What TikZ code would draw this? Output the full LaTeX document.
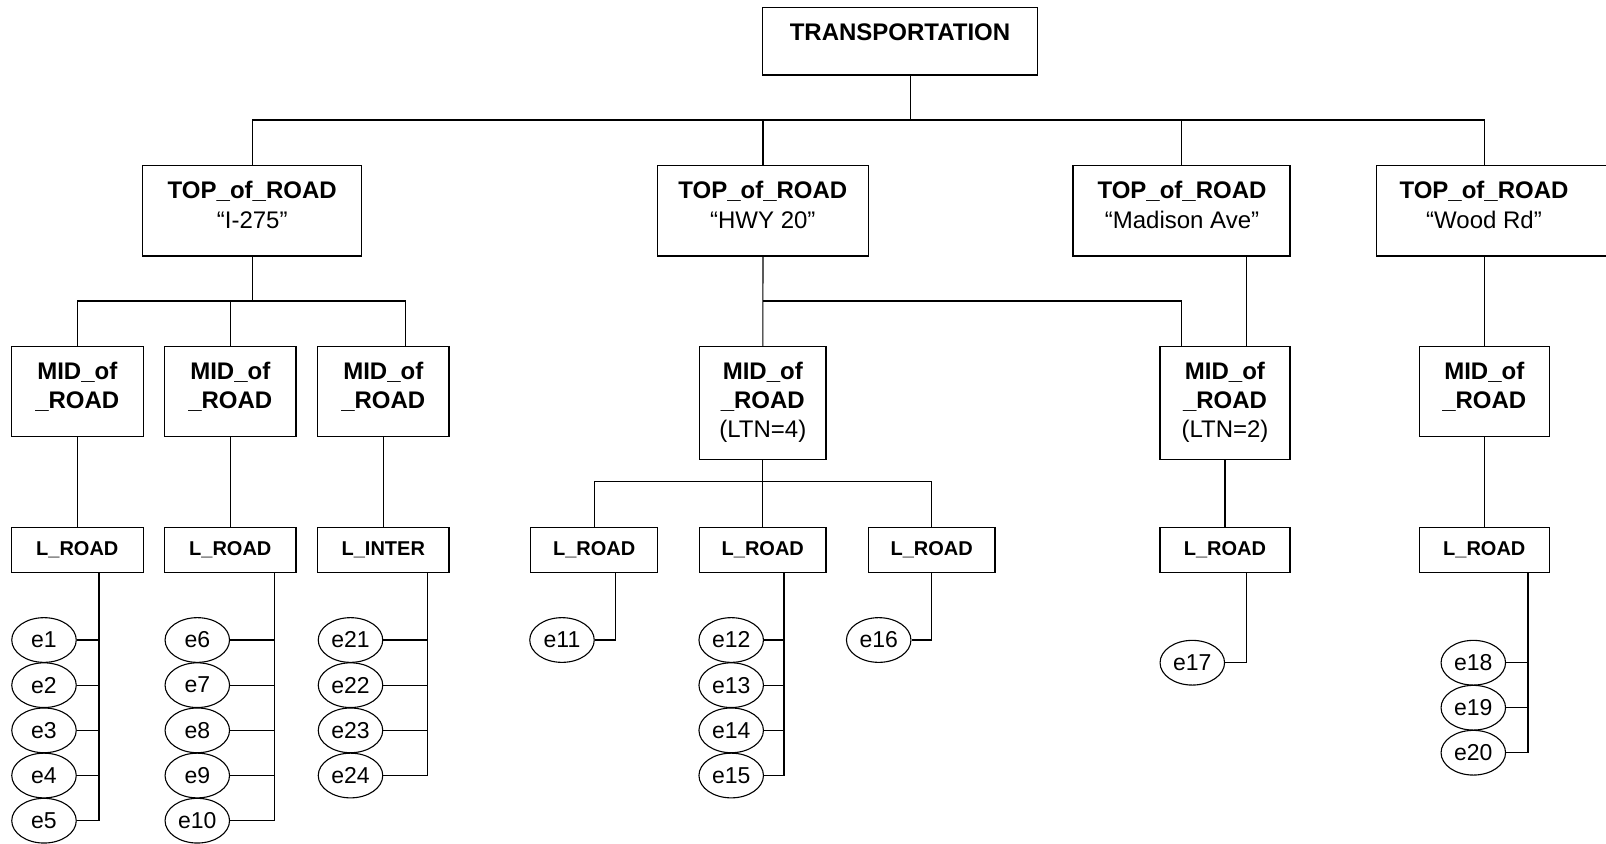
\documentclass[tikz,border=0pt]{standalone}
\usepackage{fontspec}
\setmainfont{Liberation Sans}
\usetikzlibrary{shapes.geometric}
\tikzset{
  box/.style={draw, line width=0.65pt, rectangle, inner sep=0pt},
  sz/.style n args={2}{minimum width=#1*0.5pt, minimum height=#2*0.5pt},
  toptxt/.style={font=\fontsize{12}{15}\selectfont, align=center, inner sep=0pt, anchor=north},
  midtxt/.style={font=\fontsize{12}{14.5}\selectfont, align=center, inner sep=0pt, anchor=north},
  lbox/.style={box, font=\fontsize{10}{12}\selectfont\bfseries},
  ell/.style={draw, ellipse, line width=0.55pt, inner sep=0pt, minimum width=32.25pt, minimum height=22.35pt, font=\fontsize{11.5}{13}\selectfont},
  ln/.style={line width=0.55pt}
}
\begin{document}
\begin{tikzpicture}[x=0.5pt,y=-0.5pt]
\clip (0,0) rectangle (1606,843);
\useasboundingbox (0,0) rectangle (1606,843);

% root
\node[box, sz={274.6}{67.7}] (root) at (900,41.15) {};
\node[toptxt] (root-t) at (900,23.3) {\bfseries TRANSPORTATION};

% top level
\node[box, sz={219}{90.7}] (top1) at (252.2,210.65) {};
\node[box, sz={211.4}{90.7}] (top2) at (763,210.65) {};
\node[box, sz={217}{90.7}] (top3) at (1181.5,210.65) {};
\node[box, sz={240}{90.7}] (top4) at (1496.3,210.65) {};
\node[toptxt] (top1-t) at (252.2,181) {\textbf{TOP\_of\_ROAD}\\“I-275”};
\node[toptxt] (top2-t) at (762.8,181) {\textbf{TOP\_of\_ROAD}\\“HWY 20”};
\node[toptxt] (top3-t) at (1182,181) {\textbf{TOP\_of\_ROAD}\\“Madison Ave”};
\node[toptxt] (top4-t) at (1484,181) {\textbf{TOP\_of\_ROAD}\\“Wood Rd”};

% mid level
\node[box, sz={132}{90}] (mid1) at (77.3,391.7) {};
\node[box, sz={131.3}{90}] (mid2) at (230.3,391.7) {};
\node[box, sz={131.3}{90}] (mid3) at (383.3,391.7) {};
\node[box, sz={126.3}{112.6}] (mid4) at (762.8,403) {};
\node[box, sz={130}{112.6}] (mid5) at (1225,403) {};
\node[box, sz={130}{90}] (mid6) at (1484.3,391.7) {};
\node[midtxt] (mid1-t) at (77.3,361.7) {\textbf{MID\_of}\\\textbf{\_ROAD}};
\node[midtxt] (mid2-t) at (230.3,361.7) {\textbf{MID\_of}\\\textbf{\_ROAD}};
\node[midtxt] (mid3-t) at (383.3,361.7) {\textbf{MID\_of}\\\textbf{\_ROAD}};
\node[midtxt] (mid4-t) at (762.8,361.7) {\textbf{MID\_of}\\\textbf{\_ROAD}\\(LTN=4)};
\node[midtxt] (mid5-t) at (1225,361.7) {\textbf{MID\_of}\\\textbf{\_ROAD}\\(LTN=2)};
\node[midtxt] (mid6-t) at (1484.3,361.7) {\textbf{MID\_of}\\\textbf{\_ROAD}};

% leaf boxes
\node[lbox, sz={132}{45.4}] (l1) at (77.3,550) {L\_ROAD};
\node[lbox, sz={131.3}{45.4}] (l2) at (230.3,550) {L\_ROAD};
\node[lbox, sz={131.3}{45.4}] (l3) at (383.3,550) {L\_INTER};
\node[lbox, sz={127}{45.4}] (l4) at (594.2,550) {L\_ROAD};
\node[lbox, sz={126.3}{45.4}] (l5) at (762.8,550) {L\_ROAD};
\node[lbox, sz={126.7}{45.4}] (l6) at (931.7,550) {L\_ROAD};
\node[lbox, sz={130}{45.4}] (l7) at (1225,550) {L\_ROAD};
\node[lbox, sz={130}{45.4}] (l8) at (1484.3,550) {L\_ROAD};

% ellipses
\foreach \i [count=\k from 0] in {1,...,5} \node[ell] (e\i) at (44,{640+45.17*\k}) {e\i};
\foreach \i [count=\k from 0] in {6,...,10} \node[ell] (e\i) at (197.3,{640+45.17*\k}) {e\i};
\foreach \i [count=\k from 0] in {21,...,24} \node[ell] (e\i) at (350.5,{640+45.17*\k}) {e\i};
\node[ell] (e11) at (562,640) {e11};
\foreach \i [count=\k from 0] in {12,...,15} \node[ell] (e\i) at (731.2,{640+45.17*\k}) {e\i};
\node[ell] (e16) at (878.7,640) {e16};
\node[ell] (e17) at (1192.3,662.7) {e17};
\foreach \i [count=\k from 0] in {18,...,20} \node[ell] (e\i) at (1473.3,{662.7+45*\k}) {e\i};

% junction coordinates
\coordinate (rj) at (910.7,120);
\coordinate (b1) at (252.2,301);
\coordinate (m3in) at (405.7,346.7);
\coordinate (m5in) at (1181.7,346.7);
\coordinate (t3out) at (1246.3,256);
\coordinate (b4) at (762.8,481.7);
\coordinate (v1) at (99,572.7);
\coordinate (v2) at (274.7,572.7);
\coordinate (v3) at (427.3,572.7);
\coordinate (v4) at (615.7,572.7);
\coordinate (v5) at (784,572.7);
\coordinate (v7) at (1246.3,572.7);
\coordinate (v8) at (1528,572.7);

% root to top level
\draw[ln] (root.south -| rj) -- (rj);
\draw[ln] (top1.north) |- (rj);
\draw[ln] (rj) -| (top4.north -| mid6.north);
\draw[ln] (top2.north) -- (top2.north |- rj);
\draw[ln] (top3.north) -- (top3.north |- rj);

% top level to mid level
\draw[ln] (top1.south) -- (b1);
\draw[ln] (mid1.north) |- (m3in |- b1) -- (m3in);
\draw[ln] (mid2.north) -- (mid2.north |- b1);
\draw[ln] (top2.south) -- (mid4.north);
\draw[ln] (top2.south |- b1) -| (m5in);
\draw[ln] (t3out) -- (t3out |- mid5.north);
\draw[ln] (top4.south -| mid6.north) -- (mid6.north);

% mid level to leaf boxes
\draw[ln] (mid1.south) -- (l1.north);
\draw[ln] (mid2.south) -- (l2.north);
\draw[ln] (mid3.south) -- (l3.north);
\draw[ln] (mid4.south) -- (l5.north);
\draw[ln] (l4.north) |- (b4) -| (l6.north);
\draw[ln] (mid5.south) -- (l7.north);
\draw[ln] (mid6.south) -- (l8.north);

% leaf boxes to ellipses
\draw[ln] (v1) |- (e5.east);
\foreach \i in {1,...,4} \draw[ln] (e\i.east) -- (e\i.east -| v1);
\draw[ln] (v2) |- (e10.east);
\foreach \i in {6,...,9} \draw[ln] (e\i.east) -- (e\i.east -| v2);
\draw[ln] (v3) |- (e24.east);
\foreach \i in {21,...,23} \draw[ln] (e\i.east) -- (e\i.east -| v3);
\draw[ln] (v4) |- (e11.east);
\draw[ln] (v5) |- (e15.east);
\foreach \i in {12,...,14} \draw[ln] (e\i.east) -- (e\i.east -| v5);
\draw[ln] (l6.south) |- (e16.east);
\draw[ln] (v7) |- (e17.east);
\draw[ln] (v8) |- (e20.east);
\foreach \i in {18,19} \draw[ln] (e\i.east) -- (e\i.east -| v8);
\end{tikzpicture}
\end{document}
